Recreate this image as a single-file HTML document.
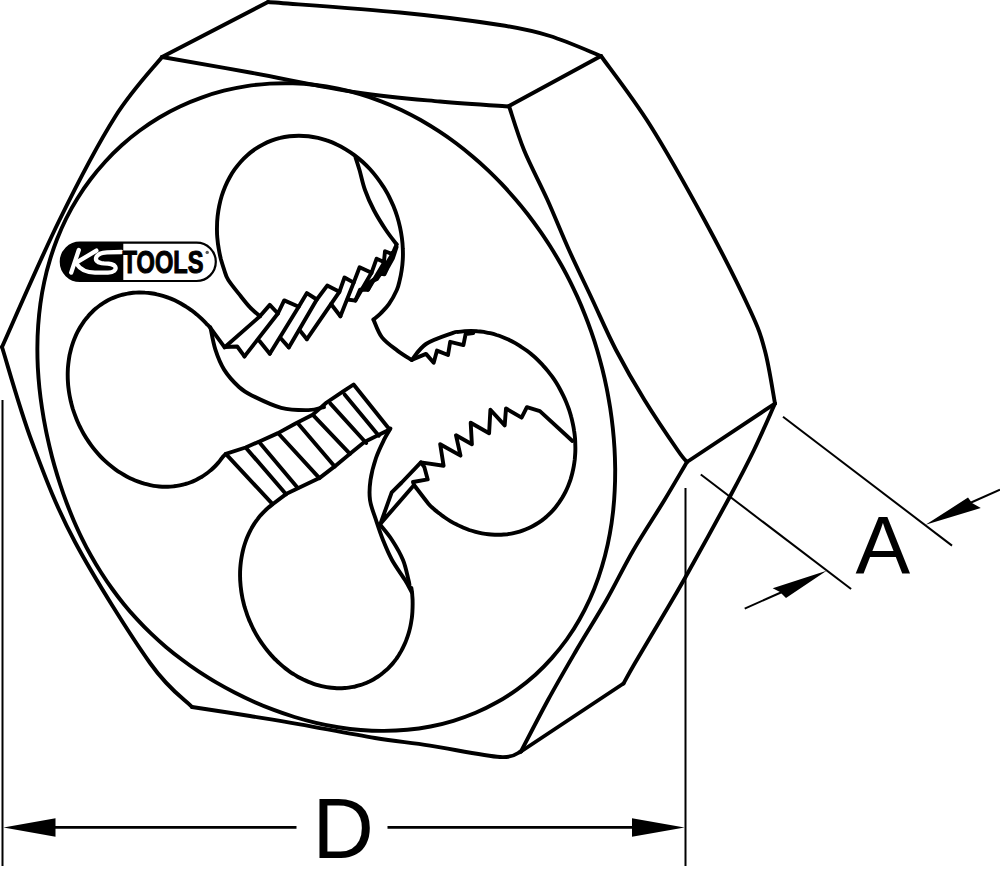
<!DOCTYPE html>
<html><head><meta charset="utf-8"><style>
html,body{margin:0;padding:0;background:#fff;}
body{width:1000px;height:884px;overflow:hidden;position:relative;}
svg{position:absolute;left:0;top:0;}
</style></head><body>
<svg width="1000" height="884" viewBox="0 0 1000 884">
<rect width="1000" height="884" fill="#fff"/>

<g fill="none" stroke="#000" stroke-linejoin="round" stroke-linecap="round">
<path d="M162,57 L268,2" stroke-width="3.9"/>
<path d="M268,2 C290,3.8 361.3,8.7 400,12.5 C438.7,16.3 475,21.1 500,25 C525,28.9 533.2,30.8 550,36 C566.8,41.2 592.5,52.7 601,56" stroke-width="3.9"/>
<path d="M601,56 C609.2,67.5 632.7,97.5 650,125 C667.3,152.5 688.3,190.2 705,221 C721.7,251.8 740,288.3 750,310 C760,331.7 760.8,335.4 765,351 C769.2,366.6 773.3,394.8 775,403.5" stroke-width="3.9"/>
<path d="M775,403.5 C771.5,411.2 761.4,434.7 754,450 C746.6,465.3 742,474.2 730.5,495.5 C719,516.8 696.7,557.2 685,578 C673.3,598.8 668.8,605.8 660.5,620 C652.2,634.2 641.2,652.4 635,663 C628.8,673.6 625.4,680.1 623.5,683.5" stroke-width="3.9"/>
<path d="M623.5,683.5 L521,751.5" stroke-width="3.9"/>
<path d="M521,751.5 C517.5,752.4 515.2,758 500,757 C484.8,756 450.8,748.8 430,745.6 C409.2,742.4 396.7,741.5 375,738 C353.3,734.5 320.8,728 300,724.3 C279.2,720.6 268,718.9 250,716 C232,713.1 201.7,708.5 192,707" stroke-width="3.9"/>
<path d="M192,707 C185,699.7 169.5,690.5 150,663 C130.5,635.5 94.7,578.8 75,542 C55.3,505.2 44.2,474.5 32,442 C19.8,409.5 7,362.8 2,347" stroke-width="3.9"/>
<path d="M2,347 C11.5,326 40.2,259.3 59,221 C77.8,182.7 97.8,144.3 115,117 C132.2,89.7 154.2,67 162,57" stroke-width="3.9"/>
<path d="M162,57 C176.7,59.6 217.5,66.6 250,72.5 C282.5,78.4 325.3,87.7 357,92.5 C388.7,97.3 414.7,99.2 440,101.5 C465.3,103.8 497.5,105.7 509,106.5" stroke-width="3.9"/>
<path d="M509,106 L601,56" stroke-width="3.9"/>
<path d="M509,106 C511.5,113.3 517.6,134.3 524,150 C530.4,165.7 540,183.3 547.5,200 C555,216.7 561.5,233.3 569,250 C576.5,266.7 584.7,283.3 592.5,300 C600.3,316.7 607.3,333.3 616,350 C624.7,366.7 634.2,383.3 644.5,400 C654.8,416.7 670.4,439.7 677.5,450 C684.6,460.3 685.4,460 687,462" stroke-width="3.9"/>
<path d="M687,462 L775,403.5" stroke-width="3.9"/>
<path d="M687,462 C683.2,468.3 673.4,485.3 664.5,500 C655.6,514.7 643.2,533.3 633.5,550 C623.8,566.7 616,583.3 606.5,600 C597,616.7 586.2,633.3 576.5,650 C566.8,666.7 557.2,683.1 548,700 C538.8,716.9 525.5,742.9 521,751.5" stroke-width="3.9"/>
<path d="M42,408 C41,401.4 40.1,394.7 39.4,387.9 C38.7,381.1 38.2,374.3 37.8,367.4 C37.5,360.5 37.3,353.5 37.4,346.4 C37.4,339.4 37.7,332.3 38.2,325.2 C38.7,318 39.4,310.9 40.4,303.7 C41.4,296.5 42.6,289.3 44.2,282.1 C45.7,274.9 47.5,267.7 49.7,260.6 C51.8,253.4 54.3,246.3 57,239.3 C59.8,232.3 62.8,225.3 66.2,218.5 C69.6,211.7 73.3,205 77.4,198.5 C81.4,192 85.7,185.6 90.4,179.5 C95,173.3 100,167.4 105.2,161.7 C110.4,155.9 115.9,150.4 121.7,145.2 C127.5,140.1 133.5,135.1 139.8,130.5 C146.1,125.9 152.6,121.5 159.3,117.5 C166,113.5 172.9,109.8 180,106.5 C187,103.2 194.2,100.2 201.6,97.6 C208.9,94.9 216.4,92.6 223.9,90.7 C231.4,88.8 239.1,87.3 246.7,86.1 C254.4,84.9 262.1,84.1 269.8,83.6 C277.5,83.2 285.2,83.1 292.9,83.3 C300.5,83.5 308.2,84.1 315.7,85 C323.3,85.9 330.8,87.2 338.2,88.7 C345.5,90.2 352.8,92.1 360,94.2 C367.1,96.3 374.2,98.7 381.1,101.4 C388,104 394.7,106.9 401.3,110 C407.9,113.2 414.3,116.5 420.6,120 C426.8,123.6 432.9,127.3 438.8,131.2 C444.8,135.1 450.5,139.1 456.1,143.3 C461.7,147.5 467.1,151.8 472.3,156.3 C477.6,160.7 482.7,165.3 487.6,169.9 C492.5,174.6 497.3,179.3 501.9,184.2 C506.5,189 510.9,194 515.2,199 C519.5,204 523.7,209.1 527.7,214.2 C531.7,219.4 535.5,224.6 539.2,229.9 C543,235.2 546.5,240.6 550,246 C553.4,251.4 556.7,256.9 559.9,262.5 C563.1,268 566.1,273.7 569,279.3 C571.9,285 574.6,290.8 577.3,296.6 C579.9,302.4 582.4,308.3 584.7,314.2 C587.1,320.1 589.3,326.1 591.4,332.2 C593.5,338.2 595.5,344.4 597.3,350.5 C599.1,356.7 600.8,363 602.4,369.3 C604,375.6 605.4,382 606.7,388.4 C608,394.9 609.1,401.4 610.2,408 C611.2,414.6 612.1,421.3 612.8,428 C613.5,434.7 614.1,441.5 614.5,448.4 C614.9,455.3 615.1,462.2 615.2,469.3 C615.2,476.3 615.1,483.4 614.7,490.5 C614.4,497.6 613.8,504.9 613,512.1 C612.2,519.3 611.2,526.6 609.8,533.9 C608.5,541.2 606.9,548.5 605,555.8 C603.1,563.1 600.9,570.4 598.4,577.6 C595.9,584.8 593.1,592 589.9,599 C586.7,606 583.2,613 579.3,619.7 C575.5,626.5 571.2,633.1 566.7,639.5 C562.1,645.8 557.2,652 552,657.9 C546.8,663.8 541.2,669.4 535.4,674.7 C529.5,680 523.3,685 516.9,689.6 C510.5,694.2 503.8,698.5 496.9,702.3 C490,706.2 482.9,709.7 475.6,712.8 C468.4,715.9 460.9,718.5 453.4,720.8 C445.9,723.1 438.2,725 430.5,726.5 C422.8,728 415,729.1 407.2,729.8 C399.5,730.6 391.7,730.9 383.9,730.9 C376.2,731 368.5,730.6 360.8,730 C353.2,729.4 345.6,728.4 338.1,727.2 C330.7,726 323.3,724.5 316,722.8 C308.7,721.1 301.6,719.2 294.5,717 C287.5,714.8 280.6,712.5 273.8,709.9 C267,707.4 260.3,704.6 253.8,701.7 C247.2,698.8 240.8,695.7 234.6,692.5 C228.3,689.3 222.1,685.9 216.1,682.4 C210.1,678.9 204.3,675.2 198.5,671.4 C192.8,667.6 187.2,663.6 181.8,659.5 C176.3,655.4 171,651.2 165.9,646.9 C160.7,642.5 155.7,638 150.9,633.4 C146.1,628.8 141.4,624 136.9,619.1 C132.4,614.3 128,609.3 123.9,604.2 C119.7,599.1 115.7,593.8 111.9,588.5 C108,583.2 104.4,577.8 100.9,572.3 C97.4,566.8 94.1,561.2 90.9,555.5 C87.7,549.9 84.7,544.1 81.9,538.3 C79,532.5 76.4,526.7 73.8,520.7 C71.3,514.8 68.9,508.8 66.6,502.8 C64.3,496.7 62.2,490.7 60.2,484.5 C58.2,478.4 56.3,472.2 54.5,465.9 C52.7,459.7 51.1,453.4 49.6,447 C48.1,440.6 46.6,434.2 45.4,427.7 C44.1,421.2 43,414.6 42,408Z" stroke-width="3.9"/>
<path d="M259.9,316.3 C258.2,314.8 253,310.5 249.8,307.1 C246.6,303.7 244.2,300.5 240.6,296 C237,291.5 231.1,284.4 228.3,280 C225.6,275.7 225.4,273.3 224.2,269.8 C223,266.3 221.9,262.8 220.9,259.3 C220,255.7 219.3,252.1 218.7,248.5 C218,245 217.6,241.3 217.3,237.7 C217,234.1 216.9,230.5 217,227 C217,223.4 217.2,219.8 217.6,216.3 C218,212.8 218.5,209.4 219.2,206 C219.9,202.6 220.7,199.2 221.7,196 C222.7,192.7 223.9,189.5 225.2,186.4 C226.5,183.4 228,180.4 229.6,177.5 C231.2,174.6 232.9,171.8 234.8,169.2 C236.7,166.6 238.7,164 240.8,161.7 C243,159.3 245.2,157.1 247.6,155 C249.9,152.9 252.4,151 255,149.2 C257.5,147.4 260.2,145.8 263,144.4 C265.7,143 268.6,141.7 271.4,140.6 C274.3,139.5 277.3,138.6 280.3,137.9 C283.3,137.1 286.4,136.6 289.5,136.2 C292.6,135.8 295.8,135.7 298.9,135.7 C302.1,135.7 305.3,135.9 308.5,136.2 C311.6,136.6 314.8,137.2 318,137.9 C321.2,138.6 324.3,139.6 327.5,140.6 C330.6,141.7 333.7,143 336.7,144.5 C339.8,145.9 342.8,147.5 345.7,149.3 C348.7,151.1 351.5,153 354.3,155.1 C357.1,157.2 359.9,159.4 362.5,161.8 C365.1,164.2 367.7,166.7 370.1,169.3 C372.5,172 374.8,174.7 377,177.6 C379.2,180.5 381.3,183.5 383.3,186.6 C385.2,189.7 387.1,192.8 388.8,196.1 C390.4,199.4 392,202.7 393.4,206.1 C394.8,209.5 396.1,213 397.2,216.5 C398.3,220 399.2,223.5 400,227.1 C400.8,230.7 401.4,234.3 401.9,237.9 C402.4,241.5 402.7,245.1 402.8,248.7 C403,252.3 403,255.9 402.8,259.4 C402.6,263 402.3,266.5 401.7,270 C401.2,273.4 400.6,276.8 399.7,280.2 C398.9,283.5 398.6,286 396.8,290 C395,294 391.6,300.3 388.9,304.2 C386.2,308.1 383.3,310.7 380.7,313.3 C378.1,315.9 374.7,318.6 373.5,319.6" stroke-width="3.9"/>
<path d="M355.5,157.3 C356.2,159.4 357.9,164.6 359.5,170 C361.1,175.4 362.6,183.3 365,190 C367.4,196.7 370.3,203.3 373.8,210 C377.3,216.7 382.1,224.3 385.9,230 C389.7,235.7 394.8,242 396.6,244.4" stroke-width="3.9"/>
<path d="M373.5,319.6 C374.9,322.6 378,332.2 382,337.4 C386,342.6 392.4,346.8 397.4,350.6 C402.3,354.4 409.3,358.4 411.7,360" stroke-width="3.9"/>
<path d="M411.7,360 C414.1,357.3 419.2,348.5 426,344 C432.8,339.5 446.9,335.1 452.4,333.1 C457.8,331.1 456.4,332.2 458.5,331.9 C460.5,331.5 462.6,331.3 464.7,331.1 C466.8,331 468.9,330.9 471,330.9 C473.1,330.9 475.2,331 477.4,331.2 C479.5,331.3 481.7,331.6 483.8,331.9 C485.9,332.3 488.1,332.7 490.2,333.2 C492.4,333.7 494.5,334.3 496.6,335 C498.7,335.6 500.8,336.4 502.9,337.2 C505,338 507.1,339 509.2,339.9 C511.2,340.9 513.3,342 515.3,343.1 C517.3,344.3 519.3,345.5 521.2,346.8 C523.2,348 525.1,349.4 527,350.8 C528.9,352.2 530.8,353.7 532.6,355.3 C534.4,356.8 536.2,358.4 537.9,360.1 C539.6,361.8 541.3,363.5 542.9,365.3 C544.6,367.1 546.2,369 547.7,370.9 C549.2,372.8 550.7,374.7 552.2,376.7 C553.6,378.7 555,380.7 556.3,382.8 C557.6,384.9 558.8,387 560,389.2 C561.2,391.4 562.3,393.6 563.4,395.8 C564.5,398 565.5,400.3 566.4,402.6 C567.3,404.9 568.2,407.2 569,409.5 C569.7,411.8 570.5,414.2 571.1,416.5 C571.8,418.9 572.3,421.3 572.8,423.7 C573.3,426 573.8,428.4 574.1,430.8 C574.5,433.2 574.8,435.6 575,438 C575.2,440.4 575.3,442.8 575.3,445.1 C575.4,447.5 575.4,449.9 575.3,452.2 C575.2,454.6 575,456.9 574.8,459.2 C574.5,461.5 574.2,463.8 573.8,466.1 C573.4,468.4 572.9,470.6 572.4,472.8 C571.9,475 571.2,477.2 570.6,479.3 C569.9,481.4 569.1,483.5 568.3,485.6 C567.5,487.6 566.6,489.6 565.6,491.6 C564.6,493.5 563.6,495.4 562.5,497.3 C561.4,499.1 560.2,500.9 559,502.7 C557.8,504.4 556.5,506.1 555.2,507.7 C553.8,509.4 552.4,510.9 551,512.4 C549.5,513.9 548,515.4 546.4,516.7 C544.9,518.1 543.2,519.4 541.6,520.6 C539.9,521.8 538.2,523 536.4,524 C534.7,525.1 532.9,526.1 531.1,527 C529.2,527.9 527.3,528.8 525.4,529.5 C523.5,530.3 521.6,531 519.6,531.6 C517.6,532.2 515.6,532.7 513.6,533.1 C511.6,533.6 509.5,533.9 507.5,534.2 C505.4,534.4 503.3,534.6 501.2,534.7 C499.1,534.8 497,534.8 494.8,534.8 C492.7,534.7 490.6,534.6 488.4,534.3 C486.3,534.1 484.2,533.8 482,533.4 C479.9,533 477.7,532.5 475.6,531.9 C473.5,531.3 471.4,530.7 469.2,530 C467.1,529.2 465,528.4 462.9,527.5 C460.9,526.6 458.8,525.7 456.8,524.6 C454.7,523.6 452.7,522.5 450.7,521.3 C448.7,520.1 446.7,518.8 444.8,517.5 C442.9,516.2 441,514.7 439.1,513.3 C437.3,511.8 435.4,510.3 433.6,508.7 C431.9,507.1 431.7,507.6 428.4,503.7 C425.1,499.7 416.4,488.1 414,485" stroke-width="3.9"/>
<path d="M412.8,359.4 L426,353.9 L433.7,362.7 L437,350.6 L448,355 L450.2,341.8 L463.4,345.1 L465.6,334.1 L473.3,333" stroke-width="3.9"/>
<path d="M420.9,462.4 L443.6,465.8 L440.2,444.3 L460.5,455.6 L456,435.3 L471.9,444.3 L470.7,422.8 L489.1,433.2 L490.4,409.8 L504.7,425.4 L506,408.5 L521.6,417.6 L526.9,407.2 L539.9,411.1 L572.4,441" stroke-width="3.9"/>
<path d="M380.5,523.6 L391.7,492.4 L401.7,482.5 L420.9,462.4 L424.3,467 L427.7,479.4 L413,482 L414.1,485 L380.5,523.6" stroke-width="3.9"/>
<path d="M390.4,428.5 C389.4,430.3 386.6,434.5 384.2,439.4 C381.8,444.3 378.3,451.2 376,458 C373.7,464.8 371.5,473 370.5,480 C369.5,487 369.1,493.3 370,500 C370.9,506.7 373.8,513.3 376,520 C378.2,526.7 380.3,533.3 383,540 C385.7,546.7 388.3,553.3 392,560 C395.7,566.7 401.7,574.7 405,580 C408.3,585.3 410.5,590 411.6,592" stroke-width="3.9"/>
<path d="M379.5,524 C381.6,526.7 388.1,534 392,540 C395.9,546 400.2,553.3 403,560 C405.8,566.7 407.4,575.8 408.5,580 C409.6,584.2 409.3,584.2 409.5,585" stroke-width="3.9"/>
<path d="M272.1,504.7 C271.5,505.2 269.5,506.7 268.2,507.8 C266.9,508.9 265.6,510.1 264.4,511.3 C263.2,512.5 262,513.8 260.8,515.1 C259.7,516.4 258.6,517.7 257.6,519.1 C256.5,520.5 255.5,522 254.5,523.4 C253.5,524.9 252.6,526.4 251.7,528 C250.9,529.6 250,531.2 249.2,532.8 C248.4,534.4 247.7,536.1 247,537.8 C246.3,539.5 245.7,541.2 245.1,543 C244.5,544.7 244,546.5 243.5,548.3 C243,550.1 242.6,552 242.2,553.8 C241.8,555.7 241.5,557.6 241.2,559.5 C240.9,561.4 240.7,563.3 240.5,565.2 C240.3,567.2 240.2,569.1 240.1,571.1 C240.1,573.1 240,575 240.1,577 C240.1,579 240.2,581 240.4,583 C240.5,585 240.7,587 241,589 C241.2,591 241.5,593 241.9,595 C242.2,597 242.6,599 243.1,600.9 C243.5,602.9 244.1,604.9 244.6,606.9 C245.2,608.8 245.8,610.8 246.5,612.7 C247.1,614.7 247.8,616.6 248.6,618.5 C249.3,620.4 250.2,622.3 251,624.2 C251.9,626.1 252.8,627.9 253.7,629.8 C254.7,631.6 255.6,633.4 256.7,635.2 C257.7,636.9 258.8,638.7 259.9,640.4 C261,642.1 262.2,643.8 263.4,645.4 C264.6,647.1 265.8,648.7 267.1,650.3 C268.4,651.9 269.7,653.4 271,654.9 C272.4,656.4 273.7,657.8 275.1,659.3 C276.6,660.7 278,662.1 279.5,663.4 C280.9,664.7 282.4,666 284,667.2 C285.5,668.5 287,669.6 288.6,670.8 C290.2,671.9 291.8,673 293.4,674 C295,675.1 296.7,676 298.3,677 C300,677.9 301.7,678.8 303.3,679.6 C305,680.4 306.7,681.2 308.5,681.9 C310.2,682.6 311.9,683.2 313.6,683.8 C315.4,684.4 317.1,684.9 318.8,685.4 C320.6,685.9 322.3,686.3 324.1,686.6 C325.8,687 327.6,687.3 329.3,687.5 C331.1,687.8 332.8,687.9 334.6,688 C336.3,688.2 338.1,688.2 339.8,688.2 C341.5,688.2 343.2,688.1 345,688 C346.7,687.8 348.4,687.7 350.1,687.4 C351.7,687.2 353.4,686.8 355.1,686.5 C356.7,686.1 358.3,685.7 360,685.2 C361.6,684.7 363.2,684.1 364.7,683.5 C366.3,682.9 367.8,682.2 369.4,681.5 C370.9,680.8 372.4,680 373.8,679.2 C375.3,678.3 376.7,677.4 378.1,676.5 C379.5,675.6 380.9,674.6 382.2,673.5 C383.6,672.5 384.9,671.4 386.1,670.2 C387.4,669.1 388.6,667.9 389.8,666.6 C391,665.4 392.2,664.1 393.3,662.7 C394.4,661.4 395.4,660 396.5,658.6 C397.5,657.1 398.5,655.7 399.4,654.1 C400.3,652.6 401.2,651.1 402,649.5 C402.9,647.9 403.7,646.3 404.4,644.6 C405.2,643 405.9,641.3 406.5,639.5 C407.2,637.8 407.8,636.1 408.3,634.3 C408.9,632.5 409.4,630.7 409.8,628.9 C410.3,627 410.7,625.2 411,623.3 C411.3,621.4 411.6,619.5 411.9,617.6 C412.1,615.7 412.3,613.7 412.4,611.8 C412.5,609.8 412.6,607.9 412.6,605.9 C412.7,603.9 412.6,602 412.6,600 C412.5,598 412.3,596 412.2,594 C412,592 411.5,589 411.4,588" stroke-width="3.9"/>
<path d="M224.7,347.5 C222.4,344.4 214.1,332.9 211.1,328.9 C208,325 208.1,325.4 206.5,323.8 C205,322.1 203.4,320.5 201.7,318.9 C200.1,317.4 198.4,315.9 196.7,314.4 C195,313 193.2,311.6 191.5,310.3 C189.7,309 187.9,307.7 186,306.6 C184.2,305.4 182.3,304.3 180.4,303.2 C178.5,302.2 176.6,301.2 174.7,300.3 C172.8,299.4 170.8,298.6 168.9,297.9 C166.9,297.1 164.9,296.4 162.9,295.8 C161,295.2 159,294.7 157,294.3 C155,293.8 153,293.5 151,293.2 C149,292.9 147,292.7 145,292.6 C143,292.4 141,292.4 139.1,292.4 C137.1,292.5 135.2,292.6 133.2,292.8 C131.3,293 129.4,293.2 127.5,293.6 C125.5,293.9 123.7,294.4 121.8,294.9 C120,295.4 118.1,296 116.3,296.6 C114.5,297.3 112.7,298 111,298.8 C109.3,299.6 107.6,300.5 105.9,301.5 C104.3,302.4 102.6,303.5 101,304.6 C99.5,305.7 97.9,306.8 96.4,308.1 C94.9,309.3 93.5,310.6 92.1,312 C90.7,313.3 89.3,314.8 88.1,316.3 C86.8,317.7 85.5,319.3 84.3,320.9 C83.2,322.5 82,324.2 81,325.9 C79.9,327.6 78.9,329.4 77.9,331.2 C77,333 76.1,334.8 75.3,336.8 C74.5,338.7 73.7,340.6 73,342.6 C72.3,344.6 71.7,346.6 71.1,348.7 C70.6,350.7 70.1,352.8 69.6,354.9 C69.2,357.1 68.9,359.2 68.6,361.4 C68.3,363.5 68.1,365.7 67.9,368 C67.8,370.2 67.7,372.4 67.7,374.6 C67.7,376.9 67.7,379.1 67.9,381.4 C68,383.7 68.2,385.9 68.5,388.2 C68.7,390.5 69.1,392.8 69.5,395 C69.9,397.3 70.4,399.5 70.9,401.8 C71.5,404 72.1,406.3 72.7,408.5 C73.4,410.7 74.2,413 75,415.1 C75.8,417.3 76.6,419.5 77.6,421.7 C78.5,423.8 79.5,425.9 80.6,428 C81.6,430.1 82.7,432.1 83.9,434.2 C85.1,436.2 86.3,438.2 87.6,440.1 C88.8,442 90.2,443.9 91.6,445.8 C92.9,447.6 94.4,449.4 95.9,451.2 C97.3,452.9 98.9,454.7 100.4,456.3 C102,458 103.6,459.6 105.3,461.1 C106.9,462.6 108.6,464.1 110.4,465.5 C112.1,466.9 113.8,468.3 115.6,469.6 C117.4,470.9 119.3,472.1 121.1,473.2 C123,474.4 124.8,475.5 126.7,476.5 C128.6,477.5 130.5,478.5 132.5,479.3 C134.4,480.2 136.4,481 138.3,481.7 C140.3,482.4 142.3,483.1 144.3,483.7 C146.2,484.2 148.2,484.7 150.2,485.1 C152.2,485.5 154.2,485.9 156.2,486.1 C158.2,486.4 160.2,486.6 162.2,486.7 C164.2,486.8 166.1,486.8 168.1,486.7 C170.1,486.7 172,486.5 174,486.3 C175.9,486.1 177.8,485.8 179.7,485.4 C181.6,485 183.5,484.6 185.3,484 C187.2,483.5 189,482.9 190.8,482.2 C192.6,481.5 194.3,480.7 196,479.9 C197.8,479.1 199.5,478.2 201.1,477.2 C202.8,476.2 204.4,475.1 205.9,474 C207.5,472.9 209,471.7 210.5,470.4 C212,469.2 213.4,467.9 214.8,466.5 C216.2,465.1 217.5,463.6 218.8,462.1 C220,460.6 221.2,458.8 222.4,457.4 C223.6,456.1 225.2,454.6 225.8,454" stroke-width="3.9"/>
<path d="M210.4,327.3 C211.2,331 213.1,342.6 215.4,349.7 C217.7,356.8 220.2,363.4 224.1,369.6 C228,375.8 234.4,382.7 239,387 C243.6,391.3 244.8,391.9 251.8,395.4 C258.8,398.9 271.8,405.4 281.2,407.8 C290.6,410.2 301.3,410.2 308.4,410.1 C315.5,410 321.4,407.5 324,407" stroke-width="3.9"/>
<path d="M225.8,453.8 L245.6,447.5 L260,441.2 L278,433.1 L296,423.2 L312.2,415.1 L326.6,402.5 L342.8,391.7 L353.6,384.5 L389.6,429.5 L377,435.8 L364.4,442.1 L350,453.8 L334.7,466.4 L319.4,478.1 L287,493.4 L272.6,504.2Z" stroke-width="3.9"/>
<path d="M246.5,448.4 L286.1,494.3" stroke-width="3.9"/>
<path d="M259.1,442.1 L297.8,488" stroke-width="3.9"/>
<path d="M278.9,434 L319.4,478.1" stroke-width="3.9"/>
<path d="M297.8,423.2 L334.7,466.4" stroke-width="3.9"/>
<path d="M313.1,415.1 L350,453.8" stroke-width="3.9"/>
<path d="M330.2,403.4 L366.2,443" stroke-width="3.9"/>
<path d="M344.6,394.4 L378.8,435.8" stroke-width="3.9"/>
<path d="M259.9,316.3 L269.8,304.9 L277.9,313.5 L284.2,300.4 L298.7,306.7 L306.9,293.1 L316.8,299.5 L327.2,285.6 L339.4,291.8 L344.5,277.5 L353.7,282.6 L359.6,267.2 L371.5,272.8 L376.6,258.7 L383.9,262.1 L385,251.3 L392.4,254.1 L396.6,244.4" stroke-width="3.9"/>
<path d="M225,347 L259.9,316.3" stroke-width="3.9"/>
<path d="M277.9,313.5 L244.5,356.4" stroke-width="3.9"/>
<path d="M298.7,306.7 L269.8,353.7" stroke-width="3.9"/>
<path d="M316.8,299.5 L288.8,347.4" stroke-width="3.9"/>
<path d="M339.4,291.8 L306.9,339.2" stroke-width="3.9"/>
<path d="M353.7,282.6 L340.4,316.2" stroke-width="3.9"/>
<path d="M371.5,272.8 L355.4,300.6" stroke-width="3.9"/>
<path d="M384.5,262 L368,289.8" stroke-width="3.9"/>
<path d="M392.4,254.1 L380.7,273.5" stroke-width="3.9"/>
<path d="M359,291 L368,289.8 L371.7,281.6 L377,279 L373,278.5 L365,284Z" stroke-width="1.5" fill="#000"/>
<path d="M225,347 L237.2,346.5 L244.5,356.4" stroke-width="3.9"/>
<path d="M259.5,341 L269.8,353.7" stroke-width="3.9"/>
<path d="M280.5,338 L288.8,347.4" stroke-width="3.9"/>
<path d="M299.5,330 L306.9,339.2" stroke-width="3.9"/>
<path d="M331,304 L340.4,316.2" stroke-width="3.9"/>
<path d="M347.5,299.5 L355.4,300.6 L360,289.8 L368,289.8 L371.7,281.6 L377,279 L380.7,273.5 L384.4,274.4 L388,267 L393,258 L396.6,247" stroke-width="3.9"/>
</g>
<g fill="none" stroke="#000" stroke-width="2.6"><path d="M40,827.4 H296.5 M387.5,827.4 H650"/></g>
<g fill="none" stroke="#000" stroke-width="2.0">
<path d="M2.5,400 L2.5,866"/>
<path d="M685.5,488 L685.5,866"/>
<path d="M783,416.8 L952,545.6"/>
<path d="M700.8,474.5 L851.1,589"/>
<path d="M1000,489.6 L970,503"/>
<path d="M744.7,608.6 L782,592"/>
</g>
<g fill="#000" stroke="none">
<path d="M3.5,827.4 L55.5,818.2 L55.5,836.8Z"/>
<path d="M684.5,827.4 L632,818.2 L632,836.8Z"/>
<path d="M925.6,524.8 L968,497.6 L972,503 L980.8,508Z"/>
<path d="M826.6,570.8 L772.7,588.3 L780,592 L786,598.1Z"/>
</g>
<g font-family="Liberation Sans, sans-serif" fill="#000">
<text x="312.5" y="857.9" font-size="85">D</text>
<text x="855.5" y="572.8" font-size="82">A</text>
</g>
<!-- logo -->
<g>
<rect x="60.8" y="242.6" width="155" height="38.4" rx="19.2" fill="#fff" stroke="#000" stroke-width="2.2"/>
<path d="M80,242.6 H123.3 V281 H80 A19.2,19.2 0 0 1 80,242.6Z" fill="#000"/>
<g fill="none" stroke="#fff" stroke-width="4.3" stroke-linecap="round" stroke-linejoin="round">
<path d="M78.8,250 L71.2,272.6"/>
<path d="M75.4,263.2 L96.4,250.6"/>
<path d="M76.8,264.2 C80,269.2 86,272.6 95,272.6 L108,272.6 C114,272.6 116.6,269.6 115.2,266.6 C113.8,264 110,263.6 104,263.3 L101.5,263.1 C97,262.6 94.8,260 96.6,256.6 C98.4,253.2 102,252.5 107,252.3 L121.5,252"/>
</g>
<text x="122.5" y="273" font-family="Liberation Sans, sans-serif" font-weight="bold" font-size="31" fill="#000" stroke="#000" stroke-width="1.1" textLength="81" lengthAdjust="spacingAndGlyphs">TOOLS</text>
<circle cx="207.2" cy="252.4" r="1.7" fill="#555"/>
</g>
</svg>
</body></html>
